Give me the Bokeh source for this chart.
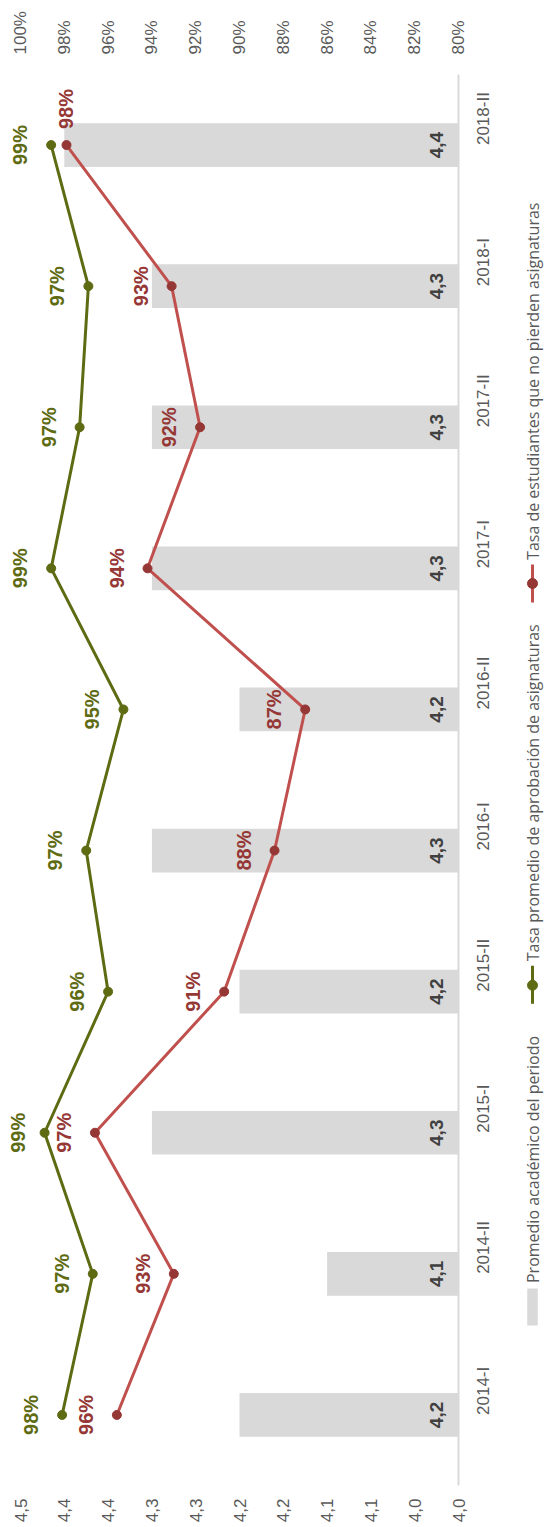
from math import pi, floor
from bokeh.plotting import figure
from bokeh.models import (Range1d, LinearAxis, FixedTicker, PrintfTickFormatter,
                          ColumnDataSource)
from bokeh.layouts import row
from bokeh.embed import file_html
from bokeh.resources import INLINE
from bokeh.core.properties import value

# ---------------- data ----------------
periods = ["2014-I", "2014-II", "2015-I", "2015-II", "2016-I",
           "2016-II", "2017-I", "2017-II", "2018-I", "2018-II"]
promedio = [4.25, 4.15, 4.35, 4.25, 4.35, 4.25, 4.35, 4.35, 4.35, 4.45]
promedio_labels = ["4,2", "4,1", "4,3", "4,2", "4,3", "4,2", "4,3", "4,3", "4,3", "4,4"]
aprobacion = [98.1, 96.7, 98.9, 96.0, 97.0, 95.3, 98.6, 97.3, 96.9, 98.6]
no_pierden = [95.6, 93.0, 96.6, 90.7, 88.4, 87.0, 94.2, 91.8, 93.1, 97.9]
aprobacion_labels = ["%d%%" % floor(v + 0.5) for v in aprobacion]
no_pierden_labels = ["%d%%" % floor(v + 0.5) for v in no_pierden]

bar_ticks = [4.0, 4.05, 4.1, 4.15, 4.2, 4.25, 4.3, 4.35, 4.4, 4.45, 4.5]
bar_tick_labels = ["4,0", "4,0", "4,1", "4,1", "4,2", "4,2", "4,3", "4,3", "4,4", "4,4", "4,5"]
pct_ticks = [80, 82, 84, 86, 88, 90, 92, 94, 96, 98, 100]

legend_names = ["Promedio académico del periodo",
                "Tasa promedio de aprobación de asignaturas",
                "Tasa de estudiantes que no pierden asignaturas"]

# ---------------- style ----------------
GREY_BAR = "#d9d9d9"
GREEN = "#5e6b13"
RED_LINE = "#c0504d"
RED_DARK = "#953735"
AXIS_TEXT = "#595959"
BAR_TEXT = "#404040"
FONT_NAME = "Liberation Sans"
FONT = value(FONT_NAME)

# label offsets (screen px) per point
ap_xoff = [-31, -31, -27, -31, -31, -31, -31, -31, -31, -31]
ap_yoff = [0] * 10
np_xoff = [-31, -31, -31, -31, -31, -31, -31, -31, -31, 0]
np_yoff = [0, 0, 0, 0, 0, 0, 0, 0, 0, -36]

# geometry: value 4.5 / 100 % sits 20 px right of the frame's left edge
PAD_L = 20
SPAN = 438            # px from 4.5 to 4.0
FRAME_W = PAD_L + SPAN
TOP, FRAME_H, BOTTOM = 74, 1411, 41
RIGHT = 56
W_MAIN = FRAME_W + RIGHT
H = TOP + FRAME_H + BOTTOM

x_start = 4.5 + 0.5 * PAD_L / SPAN
pct_start = 100 + 20.0 * PAD_L / SPAN

p = figure(width=W_MAIN, height=H, title=None,
           x_range=Range1d(x_start, 4.0), y_range=periods,
           y_axis_location="right",
           min_border_left=0, min_border_right=RIGHT,
           min_border_top=TOP, min_border_bottom=BOTTOM,
           toolbar_location=None, output_backend="svg")
p.extra_x_ranges = {"pct": Range1d(pct_start, 80)}
p.outline_line_color = None
p.xgrid.visible = False
p.ygrid.visible = False
p.background_fill_color = "white"
p.border_fill_color = "white"

src = ColumnDataSource(dict(periods=periods, promedio=promedio,
                            promedio_labels=promedio_labels,
                            aprobacion=aprobacion, no_pierden=no_pierden,
                            ap_lab=aprobacion_labels, np_lab=no_pierden_labels,
                            ap_xoff=ap_xoff, ap_yoff=ap_yoff,
                            np_xoff=np_xoff, np_yoff=np_yoff,
                            base=[4.0] * len(periods)))

# bars
p.hbar(y="periods", left="base", right="promedio", height=0.31, source=src,
       fill_color=GREY_BAR, line_color=None)
p.text(x="base", y="periods", text="promedio_labels", source=src,
       angle=pi / 2, x_offset=-22, text_align="center", text_baseline="middle",
       text_font=FONT, text_font_size="19px", text_font_style="bold",
       text_color=BAR_TEXT)

# lines
p.line(x="no_pierden", y="periods", source=src, x_range_name="pct",
       line_color=RED_LINE, line_width=3)
p.scatter(x="no_pierden", y="periods", source=src, x_range_name="pct",
          size=9, fill_color=RED_DARK, line_color=RED_DARK)
p.line(x="aprobacion", y="periods", source=src, x_range_name="pct",
       line_color=GREEN, line_width=3)
p.scatter(x="aprobacion", y="periods", source=src, x_range_name="pct",
          size=9, fill_color=GREEN, line_color=GREEN)

p.text(x="no_pierden", y="periods", text="np_lab", source=src, x_range_name="pct",
       angle=pi / 2, x_offset="np_xoff", y_offset="np_yoff",
       text_align="center", text_baseline="middle",
       text_font=FONT, text_font_size="20px", text_font_style="bold",
       text_color=RED_DARK)
p.text(x="aprobacion", y="periods", text="ap_lab", source=src, x_range_name="pct",
       angle=pi / 2, x_offset="ap_xoff", y_offset="ap_yoff",
       text_align="center", text_baseline="middle",
       text_font=FONT, text_font_size="20px", text_font_style="bold",
       text_color=GREEN)


def style_axis(ax, standoff):
    ax.axis_line_color = None
    ax.major_tick_line_color = None
    ax.minor_tick_line_color = None
    ax.major_tick_out = 0
    ax.major_tick_in = 0
    ax.minor_tick_out = 0
    ax.minor_tick_in = 0
    ax.major_label_orientation = pi / 2
    ax.major_label_standoff = standoff
    ax.major_label_text_font = FONT_NAME
    ax.major_label_text_font_size = "17px"
    ax.major_label_text_color = AXIS_TEXT


# bottom axis (promedio)
xa = p.xaxis[0]
xa.ticker = FixedTicker(ticks=bar_ticks)
xa.major_label_overrides = dict(zip(bar_ticks, bar_tick_labels))
style_axis(xa, 13)

# top axis (percent)
ta = LinearAxis(x_range_name="pct", ticker=FixedTicker(ticks=pct_ticks),
                formatter=PrintfTickFormatter(format="%d%%"))
style_axis(ta, 20)
p.add_layout(ta, "above")

# right axis (periods)
ya = p.yaxis[0]
style_axis(ya, 25)
ya.axis_line_color = GREY_BAR
ya.axis_line_width = 2

# ---------------- legend (rotated) ----------------
X0 = W_MAIN
LEG_W = 544 - W_MAIN
leg = figure(width=LEG_W, height=H, title=None,
             x_range=Range1d(X0, X0 + LEG_W), y_range=Range1d(H, 0),
             x_axis_type=None, y_axis_type=None, min_border=0,
             toolbar_location=None, output_backend="svg")
leg.outline_line_color = None
leg.xgrid.visible = False
leg.ygrid.visible = False
LX = 532
LFONT = value("Open Sans")
leg.rect(x=[LX], y=[1333], width=10.5, height=40, fill_color=GREY_BAR, line_color=None)
leg.line(x=[LX, LX], y=[1005, 964], line_color=GREEN, line_width=3)
leg.scatter(x=[LX], y=[985], size=10, fill_color=GREEN, line_color=GREEN)
leg.line(x=[LX, LX], y=[571, 530], line_color=RED_LINE, line_width=3)
leg.scatter(x=[LX], y=[550.5], size=10, fill_color=RED_DARK, line_color=RED_DARK)
leg.text(x=[LX, LX, LX], y=[1307, 959, 525], text=legend_names,
         angle=pi / 2, text_align="left", text_baseline="middle",
         text_font=LFONT, text_font_size="16px", text_color=AXIS_TEXT)

layout = row(p, leg)
open("out.html", "w").write(file_html(layout, INLINE))
